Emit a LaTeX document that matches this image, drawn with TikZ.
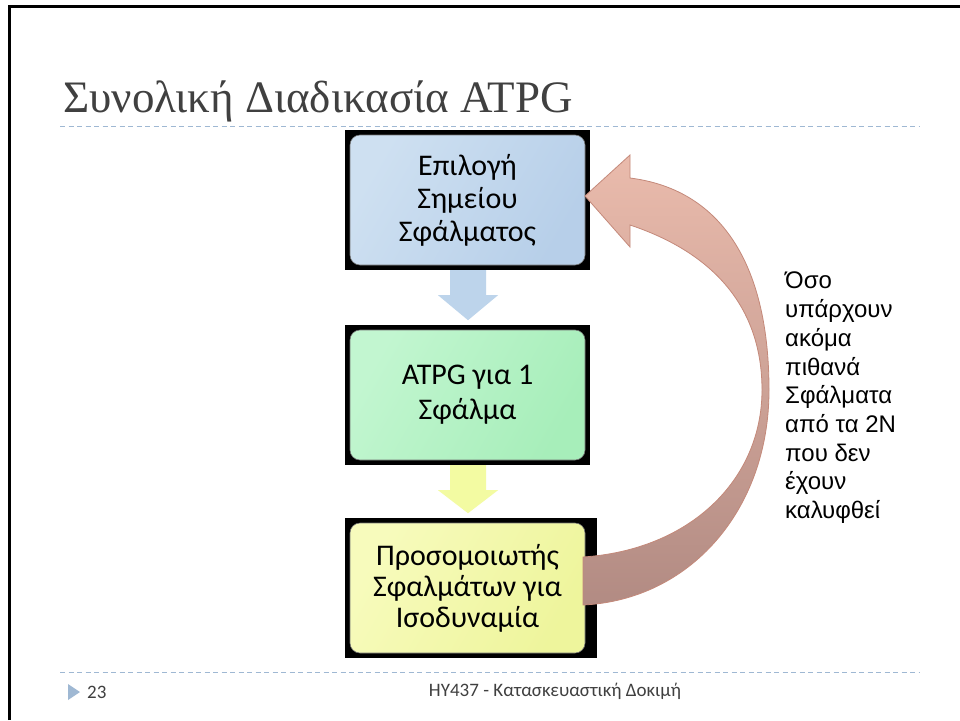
\documentclass[tikz,border=0pt]{standalone}
\usepackage{fontspec}
\setmainfont{Carlito}
\newfontfamily\titlefont{Liberation Serif}
\newfontfamily\notefont{Liberation Sans}
\usepackage{tikz}

\definecolor{framegray}{HTML}{404040}
\definecolor{dashblue}{HTML}{9FB8D3}
\definecolor{stepblue}{HTML}{BDD4EB}
\definecolor{stepyellow}{HTML}{F3FBA2}
\definecolor{blueA}{HTML}{CEE0F1}
\definecolor{blueB}{HTML}{B7CFE9}
\definecolor{greenA}{HTML}{C2F6D0}
\definecolor{greenB}{HTML}{A7EEBA}
\definecolor{yellowA}{HTML}{F7FBBC}
\definecolor{yellowB}{HTML}{EEF59C}
\definecolor{loopedge}{HTML}{C4897A}
\definecolor{loopA}{HTML}{EABBAC}
\definecolor{loopB}{HTML}{E2B0A2}
\definecolor{loopC}{HTML}{B28B83}

\tikzset{
    frame/.style={fill=black, minimum width=245pt, minimum height=140pt, inner sep=0pt},
    stepbox/.style={draw=black!55, line width=0.6pt, rounded corners=10pt,
        minimum width=235pt, minimum height=130pt, inner sep=0pt, align=center,
        font=\fontsize{30}{33}\selectfont},
    rule/.style={dashblue, line width=1pt, dash pattern=on 5pt off 3.5pt}
}

\begin{document}
\begin{tikzpicture}[x=1pt, y=-1pt]
    \useasboundingbox (0,0) rectangle (960,720);
    \fill[white] (0,0) rectangle (960,720);
    \draw[line width=3pt] (9,720) -- (9,6) -- (960,6);

    \node[anchor=base west, inner sep=0pt, text=framegray, font=\titlefont\fontsize{45}{50}\selectfont] at (63,112) (title) {Συνολική Διαδικασία ATPG};
    \draw[rule] (60,126) -- (920,126);
    \draw[rule] (60,672) -- (920,672);

    \node[frame] at (467.5,200) (f1) {};
    \node[frame] at (467.5,395) (f2) {};
    \node[frame, minimum width=252pt] at (471,588) (f3) {};
    \node[stepbox, left color=blueA, right color=blueB, shading angle=60] at (467.5,200) (b1) {Επιλογή\\Σημείου\\Σφάλματος};
    \node[stepbox, left color=greenA, right color=greenB, shading angle=60, font=\fontsize{30}{35}\selectfont] at (467.5,395) (b2) {ATPG για 1\\Σφάλμα};
    \node[stepbox, left color=yellowA, right color=yellowB, shading angle=60, font=\fontsize{30}{31}\selectfont] at (467.5,588) (b3) {Προσομοιωτής\\Σφαλμάτων για\\Ισοδυναμία};

    % down arrows between the steps
    \fill[stepblue] ([xshift=-17.5pt]f1.south) -- ++(0,25) -- ++(-12,0) -- ++(30,25) -- ++(30,-25) -- ++(-12,0) -- ++(0,-25) -- cycle;
    \fill[stepyellow] ([xshift=-17.5pt]f2.south) -- ++(0,25) -- ++(-12,0) -- ++(30,23) -- ++(30,-23) -- ++(-12,0) -- ++(0,-25) -- cycle;

    % loop back arrow
    \draw[loopedge, line width=0.8pt, top color=loopA, middle color=loopB, bottom color=loopC]
        (583,557) .. controls (690,550) and (762,480) .. (762,390)
        .. controls (762,300) and (705,250) .. (630,225)
        -- (630,247) -- (585,196) -- (630,155) -- (630,178)
        .. controls (725,190) and (769,270) .. (769,390)
        .. controls (769,510) and (690,600) .. (583,605) -- cycle;

    \node[anchor=north west, inner sep=0pt, align=left, font=\notefont\fontsize{24}{28.7}\selectfont] at (785,272) (note) {Όσο\\υπάρχουν\\ακόμα\\πιθανά\\Σφάλματα\\από τα 2Ν\\που δεν\\έχουν\\καλυφθεί};

    \fill[dashblue] (68,684) -- (68,700) -- (80,692) -- cycle;
    \node[anchor=west, inner sep=0pt, text=framegray, font=\fontsize{19}{22}\selectfont] at (87,692) (page) {23};
    \node[inner sep=0pt, text=framegray, font=\fontsize{19}{22}\selectfont] at (555,691) (footer) {ΗΥ437 - Κατασκευαστική Δοκιμή};
\end{tikzpicture}
\end{document}
